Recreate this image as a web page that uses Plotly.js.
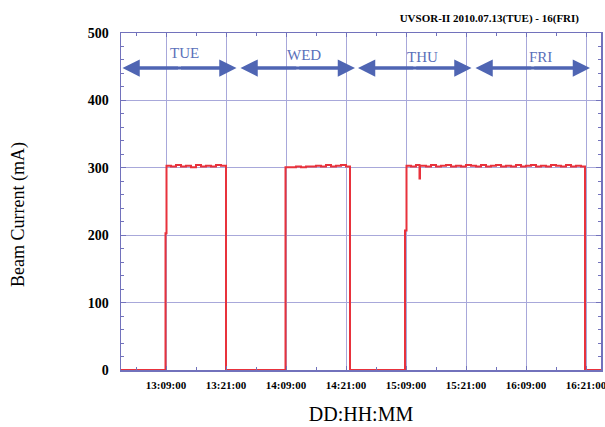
<!DOCTYPE html>
<html>
<head>
<meta charset="utf-8">
<script src="https://cdn.plot.ly/plotly-3.0.1.min.js"></script>
<style>html,body{margin:0;padding:0;background:#fff;}#chart{width:605px;height:427px;}</style>
</head>
<body>
<div id="chart"></div>
<script>
// Hours counted from day 13, 00:00
const timeHours = [0, 8.9, 9.1, 10, 11, 12, 13, 14, 15, 16, 17, 18, 19, 20, 21,
  32.9, 34, 35, 36, 37, 38, 39, 40, 41, 42, 43, 44, 45, 45.8,
  56.8, 57.1, 58, 59, 59.7, 59.8, 61, 62, 63, 64, 65, 66, 67, 68, 69, 70,
  71, 72, 73, 74, 75, 76, 77, 78, 79, 80, 81, 82, 83, 84, 85, 86, 87, 88, 89, 90, 91, 92, 92.8, 96];
const beamCurrent = [0, 203, 303, 302, 304, 302, 303, 301, 304, 302, 303, 302, 304, 303, 0,
  301, 301, 302, 301, 302, 302, 303, 302, 304, 302, 303, 304, 302, 0,
  207, 303, 302, 304, 284, 303, 302, 304, 302, 303, 304, 302, 303, 302, 304, 303,
  302, 304, 302, 303, 304, 302, 303, 302, 304, 302, 303, 304, 302, 303, 302, 304, 303, 302, 304, 302, 303, 302, 0, 0];

const tickHours = [9, 21, 33, 45, 57, 69, 81, 93];
const tickLabels = ['13:09:00', '13:21:00', '14:09:00', '14:21:00', '15:09:00', '15:21:00', '16:09:00', '16:21:00'];
const minorTickHours = [3, 15, 27, 39, 51, 63, 75, 87];

const dayLabels = ['TUE', 'WED', 'THU', 'FRI'];
const dayLabelX = [12.6, 36.6, 60.2, 83.8];
const dayLabelY = [471, 468, 464, 464];
const dayStart = [0.3, 23.9, 47.4, 70.9];
const dayEnd = [23.1, 46.8, 70.1, 93.8];
const arrowLevel = 448;

const gridCol = '#a8a8da';
const axisCol = '#7272bc';
const arrowCol = '#4f65b3';
const serif = 'Liberation Serif';

const annotations = [];
const shapes = [];
dayLabels.forEach((d, i) => {
  annotations.push({x: dayLabelX[i], y: dayLabelY[i], xref: 'x', yref: 'y', text: d, showarrow: false,
    font: {family: serif, size: 15, color: '#5a70ba'}});
  const mid = (dayStart[i] + dayEnd[i]) / 2;
  shapes.push({type: 'line', xref: 'x', yref: 'y', x0: dayStart[i] + 1.5, x1: dayEnd[i] - 1.5, y0: arrowLevel, y1: arrowLevel,
    line: {color: arrowCol, width: 3}});
  [dayStart[i], dayEnd[i]].forEach(tip => {
    annotations.push({x: tip, y: arrowLevel, ax: mid, ay: arrowLevel, xref: 'x', yref: 'y', axref: 'x', ayref: 'y',
      text: '', showarrow: true, arrowhead: 2, arrowsize: 1.15, arrowwidth: 3, arrowcolor: arrowCol, standoff: 0, startstandoff: 0});
  });
});
annotations.push({xref: 'paper', yref: 'paper', x: -(121 - 18) / 480, y: (370 - 215) / 337, xanchor: 'center', yanchor: 'middle',
  text: 'Beam Current (mA)', textangle: -90, showarrow: false, font: {family: serif, size: 18, color: '#000'}});

const trace = {
  x: timeHours, y: beamCurrent, type: 'scatter', mode: 'lines',
  line: {color: '#e8323c', width: 2, shape: 'hv'}, hoverinfo: 'skip'
};

const layout = {
  width: 605, height: 427,
  margin: {l: 121, r: 4, t: 33, b: 57},
  paper_bgcolor: '#ffffff', plot_bgcolor: '#ffffff',
  showlegend: false,
  title: {text: '<b>UVSOR-II 2010.07.13(TUE) - 16(FRI)</b>', x: 579/605, xanchor: 'right', y: 1 - 18/427, yanchor: 'middle',
    font: {family: serif, size: 11, color: '#000'}},
  xaxis: {
    range: [0, 96], tickmode: 'array', tickvals: tickHours, ticktext: tickLabels,
    showgrid: true, gridcolor: gridCol, gridwidth: 1, zeroline: false,
    showline: true, linecolor: axisCol, linewidth: 1.5, mirror: 'ticks',
    ticks: 'inside', ticklen: 4, tickcolor: axisCol,
    minor: {tickmode: 'array', tickvals: minorTickHours, ticks: 'inside', ticklen: 3, tickcolor: axisCol, showgrid: false},
    tickfont: {family: serif, size: 11, color: '#000', weight: 'bold'},
    ticklabelstandoff: 4, ticklabeloverflow: 'allow',
    title: {text: 'DD:HH:MM', font: {family: serif, size: 20, color: '#000'}, standoff: 17}
  },
  yaxis: {
    range: [0, 500], tickmode: 'array', tickvals: [0, 100, 200, 300, 400, 500],
    showgrid: true, gridcolor: gridCol, gridwidth: 1, zeroline: false,
    showline: true, linecolor: axisCol, linewidth: 1.5, mirror: 'ticks',
    ticks: 'inside', ticklen: 5, tickcolor: axisCol,
    minor: {dtick: 20, ticks: 'inside', ticklen: 3, tickcolor: axisCol, showgrid: false},
    tickfont: {family: serif, size: 14, color: '#000', weight: 'bold'},
    ticklabelstandoff: 8
  },
  shapes: shapes,
  annotations: annotations
};

Plotly.newPlot('chart', [trace], layout, {displayModeBar: false, staticPlot: true});
</script>
</body>
</html>
